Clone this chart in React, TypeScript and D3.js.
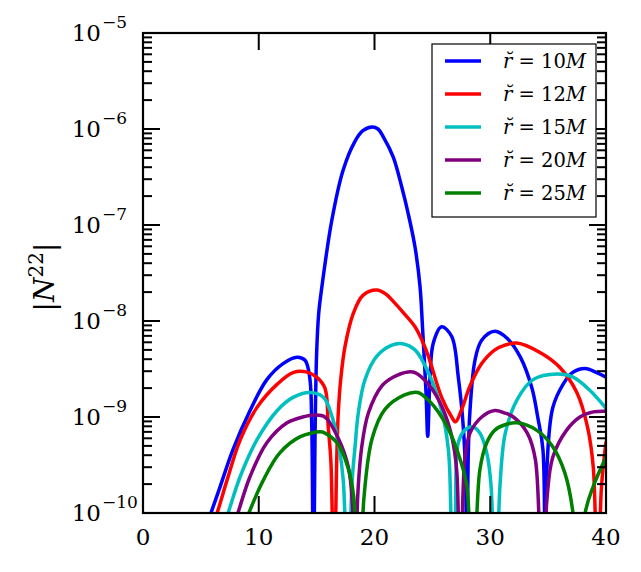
import * as d3 from "d3";

type Pt = [number, number];

const width = 641;
const height = 572;
const plot = { left: 143, right: 606, top: 33, bottom: 513 };

// |N22|; 1e-11 marks a zero crossing (drawn below the axis)
const r10: Pt[] = [
  [5.0, 5e-11], [5.87, 1e-10], [6.65, 1.86e-10], [7.78, 4.6e-10], [9.25, 1.17e-9],
  [10.7, 2.45e-9], [12.1, 3.6e-9], [13.3, 4.2e-9], [14.0, 3.9e-9], [14.4, 2.6e-9],
  [14.58, 8e-10], [14.72, 1e-11], [14.86, 6e-10], [15.0, 4.6e-9], [15.18, 1.2e-8],
  [15.44, 2.2e-8], [16.3, 1.1e-7], [17.28, 3.7e-7], [18.3, 7.4e-7], [19.0, 9.6e-7],
  [19.8, 1.05e-6], [20.3, 1.0e-6], [20.76, 8.3e-7], [21.62, 5.1e-7], [22.35, 2.5e-7],
  [22.92, 1.3e-7], [23.5, 5.9e-8], [23.93, 2.3e-8], [24.16, 8.1e-9], [24.45, 1.8e-9],
  [24.6, 6.3e-10], [24.8, 2.6e-9], [25.08, 5.9e-9], [25.8, 8.7e-9], [26.67, 6.9e-9],
  [27.24, 2.6e-9], [27.67, 7.9e-10], [27.87, 2.4e-10], [27.98, 1e-11], [28.1, 4e-10],
  [28.25, 1.17e-9], [28.68, 3.9e-9], [29.26, 6.3e-9], [30.4, 7.8e-9], [31.45, 6.6e-9],
  [32.6, 4.2e-9], [33.6, 2.0e-9], [34.1, 1.0e-9], [34.55, 4.6e-10], [34.72, 1e-11],
  [34.9, 3.0e-10], [35.4, 1.25e-9], [36.3, 2.2e-9], [37.1, 2.9e-9], [38.2, 3.2e-9],
  [39.2, 2.9e-9], [40, 2.6e-9],
];

const r12: Pt[] = [
  [5.5, 5e-11], [6.4, 1e-10], [7.26, 2.2e-10], [8.4, 5.8e-10], [9.85, 1.26e-9],
  [11.6, 2.2e-9], [12.96, 2.9e-9], [14.1, 2.95e-9], [15.0, 2.6e-9], [15.72, 2.0e-9],
  [16.0, 8e-10], [16.24, 3.3e-10], [16.5, 1e-11], [16.73, 3.3e-10], [16.87, 1.1e-9],
  [17.08, 2.45e-9], [17.45, 5.4e-9], [18.17, 1.2e-8], [19.0, 1.85e-8], [20.2, 2.1e-8],
  [21.0, 1.9e-8], [21.62, 1.6e-8], [22.6, 1.18e-8], [23.5, 8.7e-9], [24.1, 6.3e-9],
  [24.65, 4.3e-9], [25.8, 1.6e-9], [26.67, 1.0e-9], [27.0, 8.9e-10], [27.5, 1.17e-9],
  [28.25, 2.1e-9], [29.26, 3.6e-9], [30.4, 5.0e-9], [31.27, 5.6e-9], [32.3, 5.9e-9],
  [34.3, 4.7e-9], [36.0, 3.3e-9], [37.5, 1.78e-9], [38.4, 7.9e-10], [38.9, 3.0e-10],
  [39.28, 1e-11], [39.6, 1.8e-10], [40, 5.5e-10],
];

const r15: Pt[] = [
  [6.5, 5e-11], [7.35, 1e-10], [8.4, 2.4e-10], [9.85, 5.8e-10], [11.6, 1.17e-9],
  [12.96, 1.6e-9], [14.4, 1.8e-9], [15.6, 1.6e-9], [16.4, 9.5e-10], [16.93, 4.9e-10],
  [17.3, 2.2e-10], [17.72, 1e-11], [18.05, 2e-10], [18.32, 4.9e-10], [18.6, 1.1e-9],
  [19.18, 2.45e-9], [20.2, 4.3e-9], [21.5, 5.6e-9], [22.4, 5.8e-9], [23.5, 5.0e-9],
  [24.65, 2.9e-9], [25.8, 1.17e-9], [26.38, 4.6e-10], [26.6, 1e-10], [26.8, 1e-11],
  [27.0, 1e-10], [27.24, 5.4e-10], [27.8, 7.3e-10], [28.45, 7.9e-10], [29.1, 6.8e-10],
  [29.7, 4.2e-10], [30.06, 2.0e-10], [30.45, 1e-11], [30.85, 2.0e-10], [31.3, 6.8e-10],
  [32.3, 1.5e-9], [33.7, 2.45e-9], [35.8, 2.8e-9], [37.15, 2.6e-9], [38.6, 1.9e-9],
  [40, 1.23e-9],
];

const r20: Pt[] = [
  [7.4, 5e-11], [8.2, 1e-10], [9.25, 2.4e-10], [10.7, 5.4e-10], [12.45, 8.7e-10],
  [13.8, 1.0e-9], [14.85, 1.05e-9], [15.72, 1.0e-9], [16.87, 6.0e-10], [17.74, 3.0e-10],
  [18.1, 1.2e-10], [18.32, 1e-11], [18.55, 1.5e-10], [18.9, 4.9e-10], [19.47, 1.1e-9],
  [20.62, 2.1e-9], [21.6, 2.6e-9], [22.9, 2.95e-9], [23.5, 2.9e-9], [24.65, 2.2e-9],
  [25.8, 1.3e-9], [26.67, 6.3e-10], [27.1, 2.8e-10], [27.4, 1e-11], [27.8, 3.6e-10],
  [28.25, 6.8e-10], [29.26, 1.0e-9], [30.4, 1.17e-9], [31.27, 1.1e-9], [32.0, 1.0e-9],
  [33.2, 6.8e-10], [33.9, 3.6e-10], [34.45, 1e-11], [34.9, 1.4e-10], [35.4, 3.8e-10],
  [36.6, 7.3e-10], [37.75, 1.0e-9], [38.9, 1.13e-9], [40, 1.15e-9],
];

const r25: Pt[] = [
  [8.3, 5e-11], [9.15, 1e-10], [10.4, 2.2e-10], [11.8, 4.2e-10], [13.55, 6.2e-10],
  [15.3, 7.0e-10], [15.72, 6.8e-10], [16.8, 5.3e-10], [17.7, 3.0e-10], [18.2, 1.5e-10],
  [18.65, 1e-11], [19.1, 1.5e-10], [19.8, 6e-10], [20.9, 1.2e-9], [22.6, 1.7e-9],
  [23.75, 1.8e-9], [24.65, 1.5e-9], [25.8, 1.0e-9], [26.67, 6.3e-10], [27.4, 3.6e-10],
  [27.96, 2.0e-10], [28.5, 1e-11], [29.1, 2.8e-10], [29.7, 5.4e-10], [30.4, 7.3e-10],
  [31.27, 8.3e-10], [32.3, 8.7e-10], [34.0, 7.3e-10], [35.4, 4.9e-10], [36.45, 2.6e-10],
  [37.15, 1e-10], [37.7, 1e-11], [38.2, 1e-10], [38.9, 1.9e-10], [40, 3.8e-10],
];

const seriesLabels = ["10", "12", "15", "20", "25"];
const seriesColors = ["#0000ff", "#ff0000", "#00bfbf", "#800080", "#008000"];
const seriesData = [r10, r12, r15, r20, r25];

const xTicks = [0, 10, 20, 30, 40];
const yExponents = [-10, -9, -8, -7, -6, -5];

const font = "'DejaVu Serif', serif";

export default function App() {
  const x = d3.scaleLinear().domain([0, 40]).range([plot.left, plot.right]);
  const y = d3.scaleLog().domain([1e-10, 1e-5]).range([plot.bottom, plot.top]);

  const line = d3
    .line<Pt>()
    .x((d) => x(d[0]))
    .y((d) => y(d[1]))
    .curve(d3.curveCatmullRom.alpha(0.5));

  const yTicks = y.ticks();
  const isMajor = (v: number) => Math.abs(Math.log10(v) - Math.round(Math.log10(v))) < 1e-6;

  return (
    <svg
      width={width}
      height={height}
      viewBox={`0 0 ${width} ${height}`}
      style={{ position: "absolute", left: 0, top: 0, background: "#fff" }}
      fontFamily={font}
    >
      <defs>
        <clipPath id="plotClip">
          <rect x={plot.left} y={plot.top} width={plot.right - plot.left} height={plot.bottom - plot.top} />
        </clipPath>
      </defs>

      <g clipPath="url(#plotClip)" fill="none" strokeWidth={3.5} strokeLinejoin="round" strokeLinecap="round">
        {seriesData.map((s, i) => (
          <path key={i} d={line(s) ?? ""} stroke={seriesColors[i]} />
        ))}
      </g>

      {/* y ticks, left and right, pointing inward */}
      <g stroke="#000" strokeWidth={2}>
        {yTicks.map((v, i) => {
          const len = isMajor(v) ? 17 : 9;
          const yy = y(v);
          return (
            <g key={i}>
              <line x1={plot.left} x2={plot.left + len} y1={yy} y2={yy} />
              <line x1={plot.right} x2={plot.right - len} y1={yy} y2={yy} />
            </g>
          );
        })}
        {xTicks.map((v, i) => (
          <g key={i}>
            <line x1={x(v)} x2={x(v)} y1={plot.bottom} y2={plot.bottom - 17} />
            <line x1={x(v)} x2={x(v)} y1={plot.top} y2={plot.top + 17} />
          </g>
        ))}
      </g>

      <rect
        x={plot.left}
        y={plot.top}
        width={plot.right - plot.left}
        height={plot.bottom - plot.top}
        fill="none"
        stroke="#000"
        strokeWidth={2.2}
      />

      {/* tick labels */}
      <g fontSize={23} fill="#000">
        {xTicks.map((v, i) => (
          <text key={i} x={x(v)} y={545} textAnchor="middle">
            {v}
          </text>
        ))}
        {yExponents.map((e, i) => (
          <text key={i} x={101} y={y(Math.pow(10, e)) + 8} textAnchor="end">
            10
            <tspan fontSize={17} dy={-13} x={102} textAnchor="start">
              {"\u2212" + Math.abs(e)}
            </tspan>
          </text>
        ))}
      </g>

      {/* y axis label */}
      <text
        transform={`translate(54, 277) rotate(-90)`}
        textAnchor="middle"
        fontSize={28}
        fill="#000"
      >
        |<tspan fontStyle="italic">N</tspan>
        <tspan fontSize={20} dy={-11}>22</tspan>
        <tspan dy={11}>|</tspan>
      </text>

      {/* legend */}
      <g>
        <rect x={432} y={44} width={164} height={173} fill="#fff" stroke="#000" strokeWidth={1.2} />
        {seriesLabels.map((lab, i) => {
          const yy = 61 + i * 33;
          return (
            <g key={i}>
              <line x1={445} x2={481} y1={yy} y2={yy} stroke={seriesColors[i]} strokeWidth={3.5} />
              <text x={503} y={yy + 7} fontSize={19.5} fill="#000">
                <tspan fontStyle="italic">{"r\u0306"}</tspan>
                {" = " + lab}
                <tspan fontStyle="italic">M</tspan>
              </text>
            </g>
          );
        })}
      </g>
    </svg>
  );
}
